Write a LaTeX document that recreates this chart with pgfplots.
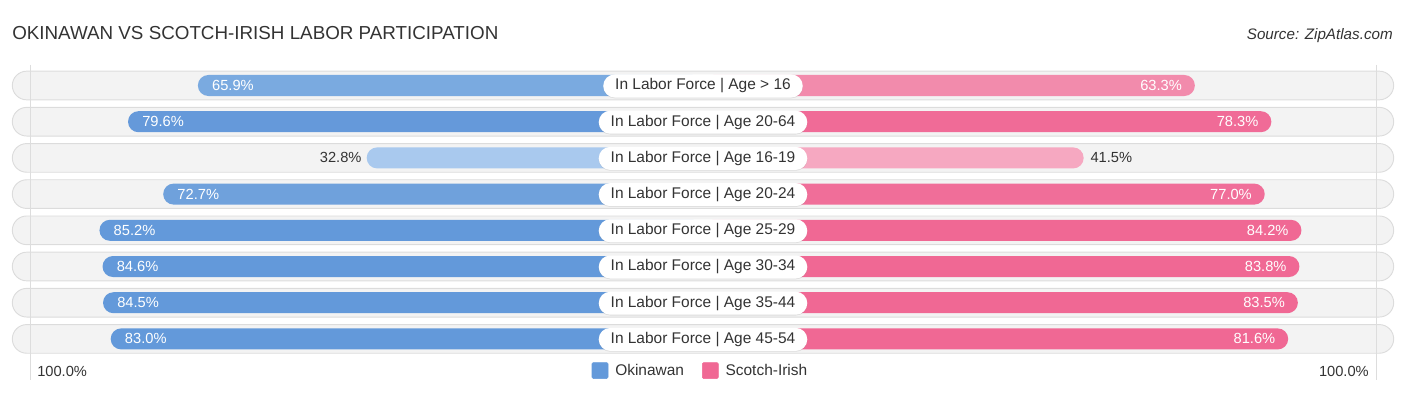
\documentclass[border=0pt]{standalone}
\usepackage{pgfplots}
\pgfplotsset{compat=1.18}
\usepackage{pgfplotstable}
\usepackage{fontspec}
\setmainfont{Liberation Sans}
\usetikzlibrary{shadows}

\definecolor{textc}{HTML}{333333}
\definecolor{pillc}{HTML}{F3F3F3}
\definecolor{pilld}{HTML}{DCDCDC}
\definecolor{gridc}{HTML}{DDDDDD}
\definecolor{okc}{HTML}{6399DA}
\definecolor{scc}{HTML}{F06894}
\definecolor{ok0}{HTML}{7AAAE0}
\definecolor{ok1}{HTML}{6599DA}
\definecolor{ok2}{HTML}{A9C9EE}
\definecolor{ok3}{HTML}{6FA1DC}
\definecolor{ok4}{HTML}{6399DA}
\definecolor{ok5}{HTML}{6399DA}
\definecolor{ok6}{HTML}{6399DA}
\definecolor{ok7}{HTML}{6399DA}
\definecolor{sc0}{HTML}{F28BAC}
\definecolor{sc1}{HTML}{F06B97}
\definecolor{sc2}{HTML}{F6A8C1}
\definecolor{sc3}{HTML}{F06E99}
\definecolor{sc4}{HTML}{F06894}
\definecolor{sc5}{HTML}{F06894}
\definecolor{sc6}{HTML}{F06894}
\definecolor{sc7}{HTML}{F06894}

\newcommand\titlefont{\fontsize{14.1pt}{16pt}\selectfont}
\newcommand\labfont{\fontsize{11.6pt}{13pt}\selectfont}
\newcommand\valfont{\fontsize{11pt}{12pt}\selectfont}
\newcommand\srcfont{\fontsize{11.4pt}{13pt}\selectfont}

% row: y position (px), Okinawan %, Scotch-Irish %
\pgfplotstableread{
y ok sc
85.5 65.9 63.3
121.7 79.6 78.3
157.9 32.8 41.5
194.1 72.7 77.0
230.3 85.2 84.2
266.5 84.6 83.8
302.7 84.5 83.5
338.9 83.0 81.6
}\data

\begin{document}
\begin{tikzpicture}
\begin{axis}[
  scale only axis, width=1054.5pt, height=296.25pt,
  xmin=-703, xmax=703, ymin=0, ymax=395, y dir=reverse,
  hide axis, clip=false,
  /pgf/number format/assume math mode=true,
  legend style={at={(axis description cs:0.4975,0.062)}, anchor=center,
    draw=none, fill=none, legend columns=2, font=\labfont, text=textc,
    inner sep=0pt, nodes={inner sep=0pt, anchor=west},
    /tikz/every odd column/.style={column sep=5.25pt},
    /tikz/every even column/.style={column sep=13.5pt}},
]
% background pills
\pgfplotsinvokeforeach{85.5,121.7,157.9,194.1,230.3,266.5,302.7,338.9}{
  \node[fill=pillc, draw=pilld, line width=0.7pt, rounded corners=10.8pt,
    minimum width=1036pt, minimum height=21.5pt, inner sep=0pt] at (axis cs:0,#1) {};
}
\draw[gridc, line width=0.75pt] (axis cs:-673,65) -- (axis cs:-673,380);
\draw[gridc, line width=0.75pt] (axis cs:673,65) -- (axis cs:673,380);

% bars
\pgfplotsinvokeforeach{0,...,7}{
  \addplot[forget plot, xbar, bar shift=0pt, bar width=21, draw=none, fill=ok#1,
    rounded corners=7.8pt, restrict expr to domain={\coordindex}{#1:#1}]
    table[x expr={-(169+5.1*\thisrow{ok})}, y=y] {\data};
  \addplot[forget plot, xbar, bar shift=0pt, bar width=21, draw=none, fill=sc#1,
    rounded corners=7.8pt, restrict expr to domain={\coordindex}{#1:#1}]
    table[x expr={169+5.1*\thisrow{sc}}, y=y] {\data};
}

% value labels
\pgfplotsset{vallab/.style={forget plot, draw=none, mark=none, nodes near coords, point meta=explicit,
  nodes near coords={\pgfmathprintnumber[fixed,fixed zerofill,precision=1]{\pgfplotspointmeta}\%}}}
\addplot[vallab, restrict expr to domain={\thisrow{ok}}{50:101},
  every node near coord/.style={anchor=west, xshift=10.5pt, inner sep=0pt, text=white, font=\valfont}]
  table[x expr={-(169+5.1*\thisrow{ok})}, y=y, meta=ok] {\data};
\addplot[vallab, restrict expr to domain={\thisrow{ok}}{0:50},
  every node near coord/.style={anchor=east, xshift=-3.75pt, inner sep=0pt, text=textc, font=\valfont}]
  table[x expr={-(169+5.1*\thisrow{ok})}, y=y, meta=ok] {\data};
\addplot[vallab, restrict expr to domain={\thisrow{sc}}{50:101},
  every node near coord/.style={anchor=east, xshift=-9.5pt, inner sep=0pt, text=white, font=\valfont}]
  table[x expr={169+5.1*\thisrow{sc}}, y=y, meta=sc] {\data};
\addplot[vallab, restrict expr to domain={\thisrow{sc}}{0:50},
  every node near coord/.style={anchor=west, xshift=5pt, inner sep=0pt, text=textc, font=\valfont}]
  table[x expr={169+5.1*\thisrow{sc}}, y=y, meta=sc] {\data};

% category labels
\tikzset{lab/.style={fill=white, rounded corners=8.6pt, minimum height=17.25pt, inner xsep=9pt,
  inner ysep=0pt, text=textc, font=\labfont,
  drop shadow={shadow xshift=0pt, shadow yshift=-0.6pt, opacity=0.2}}}
\node[lab] at (axis cs:0,86) {In Labor Force | Age > 16};
\node[lab] at (axis cs:0,122.2) {In Labor Force | Age 20-64};
\node[lab] at (axis cs:0,158.4) {In Labor Force | Age 16-19};
\node[lab] at (axis cs:0,194.6) {In Labor Force | Age 20-24};
\node[lab] at (axis cs:0,230.8) {In Labor Force | Age 25-29};
\node[lab] at (axis cs:0,267) {In Labor Force | Age 30-34};
\node[lab] at (axis cs:0,303.2) {In Labor Force | Age 35-44};
\node[lab] at (axis cs:0,339.4) {In Labor Force | Age 45-54};

% titles and axis end labels
\node[anchor=base west, inner sep=0pt, font=\titlefont, text=textc] at (axis cs:-691,40) {OKINAWAN VS SCOTCH-IRISH LABOR PARTICIPATION};
\node[anchor=base east, inner sep=0pt, font=\srcfont\itshape, text=textc] at (axis cs:690,39.3) {Source: ZipAtlas.com};
\node[anchor=base west, inner sep=0pt, font=\valfont, text=textc] at (axis cs:-666,376) {100.0\%};
\node[anchor=base east, inner sep=0pt, font=\valfont, text=textc] at (axis cs:666,376) {100.0\%};

% legend
\addlegendimage{legend image code/.code={\fill[okc, rounded corners=1pt] (0pt,-6pt) rectangle (12pt,6pt);}}
\addlegendentry{Okinawan}
\addlegendimage{legend image code/.code={\fill[scc, rounded corners=1pt] (0pt,-6pt) rectangle (12pt,6pt);}}
\addlegendentry{Scotch-Irish}
\path (rel axis cs:0,0) rectangle (rel axis cs:1,1);
\end{axis}
\end{tikzpicture}
\end{document}
